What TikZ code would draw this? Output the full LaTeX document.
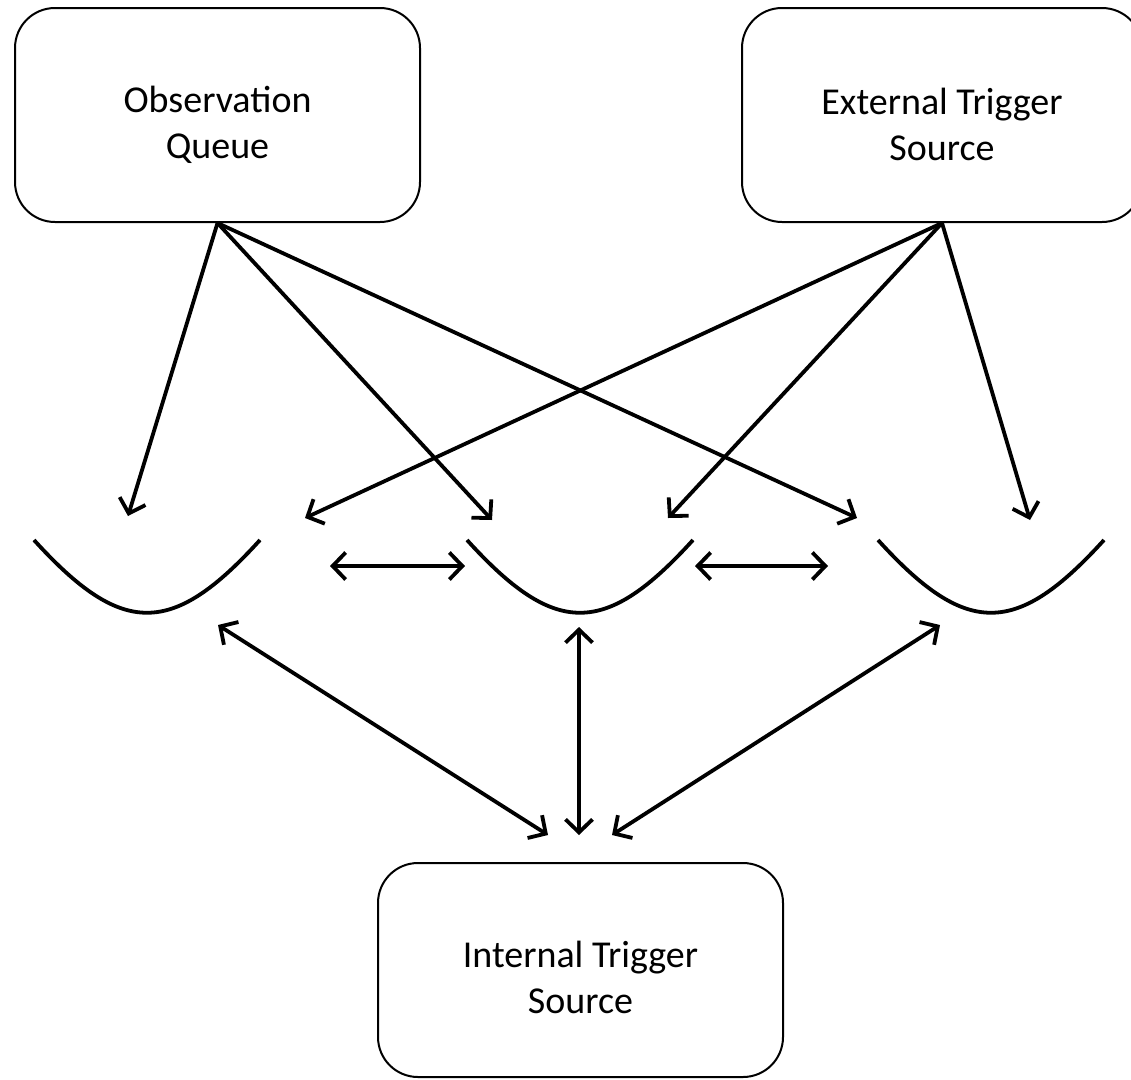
\documentclass[tikz,border=0pt]{standalone}
\usepackage{fontspec}
\setmainfont{Carlito}
\usetikzlibrary{arrows.meta}
\usetikzlibrary{positioning}

\tikzset{
    srcbox/.style={draw, line width=2pt, rounded corners=40pt,
        minimum width=405pt, minimum height=214pt, align=center,
        font=\fontsize{38}{46}\selectfont},
    barb/.tip={Straight Barb[length=13pt,width=27pt]},
    feed/.style={line width=3.8pt, -barb},
    swap/.style={line width=3.8pt, barb-barb},
    well/.style={line width=3.8pt}
}

\begin{document}
\begin{tikzpicture}[x=1pt,y=-1pt]
        \useasboundingbox (0,0) rectangle (1131,1079);
        % sources
        \node[srcbox] (obs) at (217.5,115) {\rule{0pt}{46pt}Observation\\Queue};
        \node[srcbox, minimum width=400pt] (ext) at (942,115) {\rule{0pt}{46pt}External Trigger\\Source};
        \node[srcbox] (int) at (580.5,970) {\rule{0pt}{42pt}Internal Trigger\\Source};
        % the three wells
        \foreach \x/\n in {147/wl,580/wm,991/wr} {
            \draw[well] (\x-113,540) .. controls (\x-25,637) and (\x+25,637) .. (\x+113,540);
            \coordinate (\n top) at (\x-1,627);
        }
        % arrow ends
        \coordinate (ol) at (128,516);
        \coordinate (om) at (492,520);
        \coordinate (or) at (857,518);
        \coordinate (el) at (305,518);
        \coordinate (em) at (668,518);
        \coordinate (er) at (1030,520);
        \coordinate (s1) at (330,566);
        \coordinate (s2) at (465,566);
        \coordinate (s3) at (695,566);
        \coordinate (s4) at (828,566);
        \coordinate (il) at (218,625);
        \coordinate (ir) at (940,625);
        \coordinate (tl) at (548,835);
        \coordinate (tm) at (579,835);
        \coordinate (tr) at (612,835);
        % feeds
        \foreach \t in {ol,om,or}
            \draw[feed] (obs.south) -- (\t);
        \foreach \t in {el,em,er}
            \draw[feed] (ext.south) -- (\t);
        \draw[swap] (s1) -- (s2);
        \draw[swap] (s3) -- (s4);
        \draw[swap] (il) -- (tl);
        \draw[swap] (wmtop) -- (tm);
        \draw[swap] (ir) -- (tr);
\end{tikzpicture}
\end{document}
